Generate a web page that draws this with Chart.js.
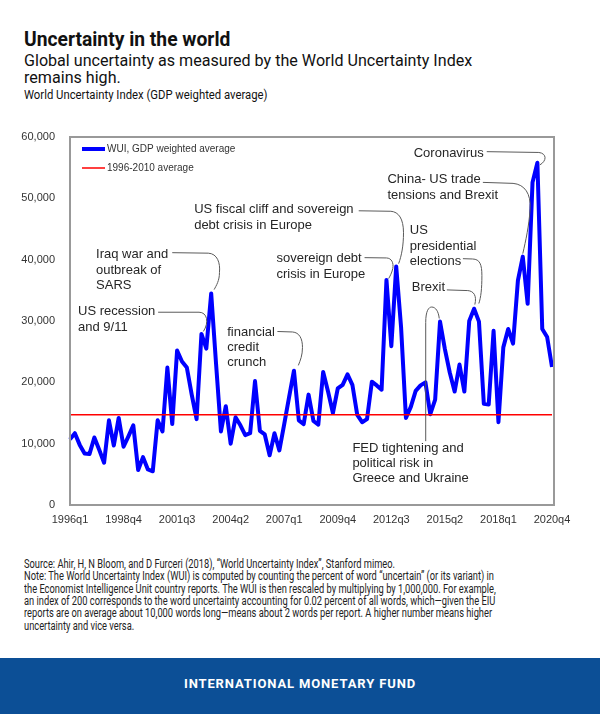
<!DOCTYPE html>
<html>
<head>
<meta charset="utf-8">
<script src="https://cdn.jsdelivr.net/npm/chart.js@4.4.1/dist/chart.umd.min.js"></script>
<style>
  html, body { margin:0; padding:0; background:#fff; }
  body { width:600px; height:714px; position:relative; overflow:hidden; font-family:Roboto, "Noto Sans", sans-serif; color:#111; }
  .abs { position:absolute; left:24px; white-space:nowrap; transform-origin:0 0; }
  #title { top:27px; font-size:20px; line-height:24px; font-weight:700; transform:scaleX(0.963); }
  #subtitle { top:51.7px; font-size:17px; line-height:17px; transform:scaleX(0.947); }
  #unit { top:88.4px; font-size:12px; line-height:14px; transform:scaleX(0.942); }
  #chart-wrap { position:absolute; left:0; top:110px; width:600px; height:430px; }
  #notes { top:557.7px; font-size:12px; line-height:12.4px; color:#222; }
  #banner { position:absolute; left:0; top:658px; width:600px; height:56px; background:#0c4f96;
            color:#fff; text-align:center; font-size:13px; font-weight:700; letter-spacing:0.87px; line-height:51px; }
</style>
</head>
<body>
<div class="abs" id="title">Uncertainty in the world</div>
<div class="abs" id="subtitle">Global uncertainty as measured by the World Uncertainty Index<br>remains high.</div>
<div class="abs" id="unit">World Uncertainty Index (GDP weighted average)</div>
<div id="chart-wrap"><canvas id="chart-wui"></canvas></div>
<div class="abs" id="notes">
  <div>Source: Ahir, H, N Bloom, and D Furceri (2018), “World Uncertainty Index”, Stanford mimeo.</div>
  <div id="note-ref">Note: The World Uncertainty Index (WUI) is computed by counting the percent of word “uncertain” (or its variant) in</div>
  <div>the Economist Intelligence Unit country reports. The WUI is then rescaled by multiplying by 1,000,000. For example,</div>
  <div>an index of 200 corresponds to the word uncertainty accounting for 0.02 percent of all words, which—given the EIU</div>
  <div>reports are on average about 10,000 words long—means about 2 words per report. A higher number means higher</div>
  <div>uncertainty and vice versa.</div>
</div>
<div id="banner">INTERNATIONAL MONETARY FUND</div>

<script>
// quarterly categories 1996q1 .. 2020q4
const firstYear = 1996, lastYear = 2020;
const quarters = [];
for(let y=firstYear; y<=lastYear; y++){
  for(let q=1; q<=4; q++) quarters.push(y+'q'+q);
}

// labels shown on the x axis
const tickLabels = ['1996q1','1998q4','2001q3','2004q2','2007q1','2009q4','2012q3','2015q2','2018q1','2020q4'];

// WUI, GDP weighted average
const wuiValues = [
  10700, 11700,  9800,  8400,  8300, 11000,  9000,  6900, 13800,  9700,   // 1996q1-1998q2
  14200,  9500, 11200, 13000,  5700,  7800,  5800,  5500, 13800, 12000,   // 1998q3-2000q4
  22400, 13200, 25200, 23400, 22400, 18000, 14000, 27900, 25500, 34500,   // 2001q1-2003q2
  23000, 12000, 16100, 10000, 14300, 13000, 11400, 11700, 20200, 12100,   // 2003q3-2005q4
  11500,  8100, 11700,  8900, 13200, 17600, 21900, 13800, 13200, 18000,   // 2006q1-2008q2
  13700, 13100, 21700, 18500, 15000, 19000, 19600, 21300, 19600, 14700,   // 2008q3-2010q4
  13500, 14000, 20100, 19500, 18800, 36700, 25900, 38900, 29000, 14200,   // 2011q1-2013q2
  16000, 18600, 19500, 20000, 14800, 17200, 29900, 25400, 21600, 18500,   // 2013q3-2015q4
  22900, 18500, 30000, 32000, 29900, 16500, 16400, 28400, 13500, 25700,   // 2016q1-2018q2
  28700, 26300, 36600, 40500, 32800, 52600, 55800, 28700, 27400, 22500    // 2018q3-2020q4
];

// 1996-2010 average
const avgLevel = 14700;

const seriesNames = ['WUI, GDP weighted average', '1996-2010 average'];

// callouts: first line position and connector path, both in data units [quarter index, value]
const callouts = [
  { lines:['US recession','and 9/11'], at:[1.65, 31500],
    path:[['M',18.1,31430],['L',26.5,31430],['C',28.2,31430,28.6,29760,27.4,28300]] },
  { lines:['Iraq war and','outbreak of','SARS'], at:[5.35, 40800],
    path:[['M',21.0,41140],['L',28.4,41060],['C',30.25,40980,30.9,39510,30.7,37890],['C',30.7,36590,30.05,35770,29.6,35120]] },
  { lines:['financial','credit','crunch'], at:[32.3, 28180],
    path:[['M',42.6,28290],['L',45.7,28210],['C',47.1,28130,47.75,27150,47.75,25690],['C',47.75,24390,47.3,23580,46.9,22760]] },
  { lines:['US fiscal cliff and sovereign','debt crisis in Europe'], at:[25.5, 48130],
    path:[['M',59.3,47970],['L',65.9,47890],['C',67.5,47800,68.5,46670,68.5,44390],['C',68.5,42280,68.1,40650,67.5,39350]] },
  { lines:['sovereign debt','crisis in Europe'], at:[42.4, 40160],
    path:[['M',60.5,40330],['L',65.0,40280],['C',66.06,40240,66.5,39510,66.3,38540],['C',66.06,37720,65.65,37240,65.45,36910]] },
  { lines:['China- US trade','tensions and Brexit'], at:[65.2, 53010],
    path:[['M',84.8,52600],['L',91.0,52440],['C',93.4,52280,94.7,50730,94.5,48290],['C',94.3,45530,93.6,43090,93.0,40980]] },
  { lines:['Coronavirus'], at:[70.6, 57400],
    path:[['M',85.6,57610],['L',96.3,57480],['C',97.96,57320,97.96,56100,96.5,55450]] },
  { lines:['US','presidential','elections'], at:[69.8, 44720],
    path:[['M',80.7,40160],['L',82.7,40110],['C',84.2,40080,84.6,39190,84.6,37400],['C',84.6,35280,84.4,33820,83.97,32850]] },
  { lines:['Brexit'], at:[70.2, 35450],
    path:[['M',77.4,35070],['L',81.7,34960],['C',82.9,34880,83.6,34150,83.15,32680]] },
  { lines:['FED tightening and','political risk in','Greece and Ukraine'], at:[58.0, 9270],
    path:[['M',73.06,10410],['L',73.06,29760],['C',73.06,31710,73.7,32280,74.3,32280],['C',75.1,32280,75.7,31540,75.84,30410]] }
];

const AXIS_FONT = '"Liberation Sans", Arial, sans-serif';

// grey frame round the plot area
const plotFrame = {
  id: 'plotFrame',
  afterDraw(chart){
    const ctx = chart.ctx, a = chart.chartArea;
    ctx.save();
    ctx.strokeStyle = '#999999';
    ctx.lineWidth = 2;
    ctx.strokeRect(a.left, a.top, a.right + 2 - a.left, a.bottom - a.top);
    ctx.restore();
  }
};

// legend and callouts
const decorations = {
  id: 'decorations',
  afterDatasetsDraw(chart){
    const {ctx, chartArea:a, scales} = chart;
    const px = (i,v)=>[scales.x.getPixelForValue(i), scales.y.getPixelForValue(v)];
    ctx.save();

    // legend
    const lx = a.left + 12, ly = a.top + 12;
    ctx.lineCap = 'butt';
    ctx.strokeStyle = '#0000ff'; ctx.lineWidth = 4;
    ctx.beginPath(); ctx.moveTo(lx, ly); ctx.lineTo(lx+23, ly); ctx.stroke();
    ctx.strokeStyle = '#ff0000'; ctx.lineWidth = 1.5;
    ctx.beginPath(); ctx.moveTo(lx, ly+19); ctx.lineTo(lx+23, ly+19); ctx.stroke();
    ctx.fillStyle = '#333';
    ctx.font = '10px ' + AXIS_FONT;
    ctx.textBaseline = 'middle';
    ctx.fillText(seriesNames[0], lx+25, ly);
    ctx.fillText(seriesNames[1], lx+25, ly+19);

    // callouts
    ctx.font = '13px ' + AXIS_FONT;
    ctx.fillStyle = '#262626';
    callouts.forEach(c=>{
      const [tx, ty] = px(c.at[0], c.at[1]);
      c.lines.forEach((t,k)=>ctx.fillText(t, tx, ty + k*15.3));
      ctx.strokeStyle = '#5a5a5a';
      ctx.lineWidth = 1;
      ctx.beginPath();
      c.path.forEach(seg=>{
        if(seg[0]==='M'){ const p = px(seg[1],seg[2]); ctx.moveTo(p[0],p[1]); }
        else if(seg[0]==='L'){ const p = px(seg[1],seg[2]); ctx.lineTo(p[0],p[1]); }
        else {
          const p1 = px(seg[1],seg[2]), p2 = px(seg[3],seg[4]), p3 = px(seg[5],seg[6]);
          ctx.bezierCurveTo(p1[0],p1[1],p2[0],p2[1],p3[0],p3[1]);
        }
      });
      ctx.stroke();
    });
    ctx.restore();
  }
};

const ctx = document.getElementById('chart-wui').getContext('2d');
new Chart(ctx, {
  type: 'line',
  data: {
    labels: quarters,
    datasets: [
      {
        label: seriesNames[1],
        data: [{x:quarters[0], y:avgLevel}, {x:quarters[quarters.length-1], y:avgLevel}],
        borderColor: '#ff0000',
        borderWidth: 1.5,
        pointRadius: 0,
        order: 0
      },
      {
        label: seriesNames[0],
        data: wuiValues,
        borderColor: '#0000ff',
        borderWidth: 4,
        borderJoinStyle: 'round',
        pointRadius: 0,
        tension: 0,
        order: 1
      }
    ]
  },
  options: {
    responsive: true,
    maintainAspectRatio: false,
    animation: false,
    layout: { padding: { top: 27, right: 48, left: 0, bottom: 0 } },
    plugins: { legend: { display:false }, tooltip: { enabled:false } },
    scales: {
      x: {
        grid: { display:false, drawTicks:false },
        border: { display:false },
        afterFit(s){ s.height = 35; },
        ticks: {
          autoSkip: false, maxRotation: 0, minRotation: 0, padding: 8,
          color: '#333', font: { family: AXIS_FONT, size: 11 },
          callback(v){ const l = this.getLabelForValue(v); return tickLabels.includes(l) ? l : ''; }
        }
      },
      y: {
        min: 0, max: 60000,
        grid: { display:false, drawTicks:false },
        border: { display:false },
        afterFit(s){ s.width = 70; },
        ticks: {
          stepSize: 10000, padding: 15,
          color: '#333', font: { family: AXIS_FONT, size: 11 },
          callback: v => v.toLocaleString('en-US')
        }
      }
    }
  },
  plugins: [plotFrame, decorations]
});

// the notes use a narrow face in the original; squeeze to the same line length
const notes = document.getElementById('notes');
const ref = document.getElementById('note-ref');
const range = document.createRange(); range.selectNodeContents(ref);
const w = range.getBoundingClientRect().width;
if(w > 0) notes.style.transform = 'scaleX(' + (470 / w) + ')';
</script>
</body>
</html>
